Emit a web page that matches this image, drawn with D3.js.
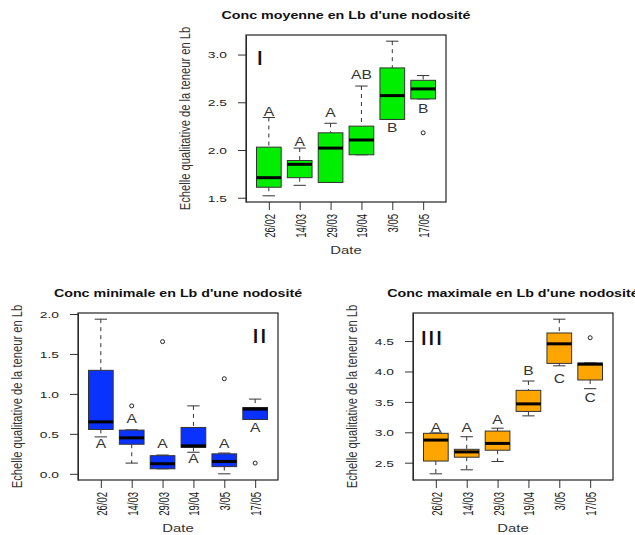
<!DOCTYPE html>
<html>
<head>
<meta charset="utf-8">
<script src="https://cdn.jsdelivr.net/npm/d3@7"></script>
<style>
  html, body { margin: 0; padding: 0; background: #fff; }
  svg { display: block; }
  text { font-family: "Liberation Sans", Arial, Helvetica, sans-serif; }
</style>
</head>
<body>
<svg id="chart" width="635" height="535"></svg>
<script>
// Sampling dates shared by all three panels
const dates = ["26/02", "14/03", "29/03", "19/04", "3/05", "17/05"];

// Box statistics per date: [lower whisker, Q1, median, Q3, upper whisker]
const moyenneStats = [
  [1.52, 1.61, 1.71, 2.03, 2.34],
  [1.63, 1.71, 1.85, 1.89, 2.02],
  [1.66, 1.66, 2.02, 2.18, 2.28],
  [1.95, 1.95, 2.105, 2.25, 2.67],
  [2.32, 2.32, 2.57, 2.86, 3.14],
  [2.535, 2.535, 2.64, 2.73, 2.78]
];
const moyenneOutliers = [[], [], [], [], [], [2.18]];
const moyenneLetters = ["A", "A", "A", "AB", "B", "B"];
const moyenneLetterAt = [2.40, 2.09, 2.39, 2.79, 2.24, 2.44];
const moyenneTicks = [1.5, 2.0, 2.5, 3.0];

const minimaleStats = [
  [0.462, 0.555, 0.65, 1.295, 1.935],
  [0.134, 0.37, 0.45, 0.547, 0.55],
  [0.063, 0.063, 0.126, 0.227, 0.235],
  [0.27, 0.33, 0.35, 0.58, 0.85],
  [0.0, 0.09, 0.155, 0.25, 0.26],
  [0.68, 0.68, 0.81, 0.83, 0.935]
];
const minimaleOutliers = [[], [0.85], [1.654], [], [1.19], [0.134]];
const minimaleLetters = ["A", "A", "A", "A", "A", "A"];
const minimaleLetterAt = [0.38, 0.69, 0.38, 0.19, 0.38, 0.575];
const minimaleTicks = [0.0, 0.5, 1.0, 1.5, 2.0];

const maximaleStats = [
  [2.317, 2.527, 2.872, 2.983, 2.99],
  [2.383, 2.59, 2.677, 2.72, 2.927],
  [2.52, 2.705, 2.817, 3.02, 3.067],
  [3.27, 3.343, 3.467, 3.69, 3.843],
  [4.093, 4.133, 4.455, 4.633, 4.86],
  [3.717, 3.86, 4.12, 4.138, 4.14]
];
const maximaleOutliers = [[], [], [], [], [], [4.555]];
const maximaleLetters = ["A", "A", "A", "B", "C", "C"];
const maximaleLetterAt = [3.08, 3.08, 3.205, 4.01, 3.89, 3.577];
const maximaleTicks = [2.5, 3.0, 3.5, 4.0, 4.5];

const yLabel = "Echelle qualitative de la teneur en Lb";
const xLabel = "Date";

const panels = [
  { title: "Conc moyenne en Lb d'une nodosité", roman: "I", romanSide: "left",
    stats: moyenneStats, outliers: moyenneOutliers, letters: moyenneLetters,
    letterAt: moyenneLetterAt, ticks: moyenneTicks, fill: "#00ee00",
    left: 246, top: 35 },
  { title: "Conc minimale en Lb d'une nodosité", roman: "II", romanSide: "right",
    stats: minimaleStats, outliers: minimaleOutliers, letters: minimaleLetters,
    letterAt: minimaleLetterAt, ticks: minimaleTicks, fill: "#0a32ff",
    left: 78, top: 313 },
  { title: "Conc maximale en Lb d'une nodosité", roman: "III", romanSide: "left",
    stats: maximaleStats, outliers: maximaleOutliers, letters: maximaleLetters,
    letterAt: maximaleLetterAt, ticks: maximaleTicks, fill: "#ffa500",
    left: 413, top: 313 }
];

const W = 200, H = 167;
const SX = 1.35; // horizontal glyph stretch used for all text
const svg = d3.select("#chart");

// Text drawn with a horizontal stretch applied around its anchor point
function stext(g, x, y, str, o = {}) {
  const sx = o.sx || SX;
  const rot = o.rotate ? ` rotate(${o.rotate})` : "";
  return g.append("text")
    .attr("transform", `translate(${x},${y}) scale(${sx},1)${rot}`)
    .attr("text-anchor", o.anchor || "middle")
    .attr("dy", o.dy || null)
    .attr("font-size", o.size || 11)
    .attr("font-weight", o.weight || "normal")
    .attr("fill", o.fill || "#222")
    .text(str);
}

panels.forEach(p => {
  const g = svg.append("g").attr("transform", `translate(${p.left},${p.top})`);

  const allVals = p.stats.flat().concat(p.outliers.flat());
  const lo = d3.min(allVals), hi = d3.max(allVals);
  const pad = (hi - lo) * 0.04;
  const y = d3.scaleLinear().domain([lo - pad, hi + pad]).range([H, 0]);
  const x = d3.scalePoint().domain(dates).range([0, W]).padding(0.74);
  const bw = x.step() * 0.8;

  // Y axis
  const ya = g.append("g")
    .call(d3.axisLeft(y).tickValues(p.ticks).tickFormat(d3.format(".1f")).tickSize(8).tickSizeOuter(0));
  ya.select(".domain").attr("stroke", "#333");
  ya.selectAll(".tick line").attr("stroke", "#333");
  ya.selectAll(".tick text")
    .attr("x", 0).attr("dy", "0.35em")
    .attr("transform", `translate(-19,0) scale(1.45,1)`)
    .attr("font-size", 9.5).attr("fill", "#222")
    .attr("font-family", "Liberation Sans, Arial, sans-serif");

  // X axis with vertical tick labels
  const xa = g.append("g").attr("transform", `translate(0,${H})`)
    .call(d3.axisBottom(x).tickSize(8).tickSizeOuter(0));
  xa.select(".domain").remove();
  xa.selectAll(".tick line").attr("stroke", "#333");
  xa.selectAll(".tick text")
    .attr("x", 0).attr("y", 0).attr("dy", "0.36em")
    .attr("transform", `translate(0,12) scale(1.6,1) rotate(-90)`)
    .attr("text-anchor", "end")
    .attr("font-size", 9.5).attr("fill", "#1a1a1a")
    .attr("font-family", "Liberation Sans, Arial, sans-serif");

  // Boxes
  const box = g.selectAll(".box").data(p.stats).join("g").attr("class", "box")
    .attr("transform", (d, i) => `translate(${x(dates[i])},0)`);

  // dashed whiskers
  box.append("line").attr("x1", 0).attr("x2", 0)
    .attr("y1", d => y(d[4])).attr("y2", d => y(d[3]))
    .attr("stroke", "#333").attr("stroke-dasharray", "4,4");
  box.append("line").attr("x1", 0).attr("x2", 0)
    .attr("y1", d => y(d[1])).attr("y2", d => y(d[0]))
    .attr("stroke", "#333").attr("stroke-dasharray", "4,4");
  // whisker caps
  box.selectAll(".cap").data(d => [d[0], d[4]]).join("line").attr("class", "cap")
    .attr("x1", -bw / 4).attr("x2", bw / 4)
    .attr("y1", v => y(v)).attr("y2", v => y(v))
    .attr("stroke", "#333");
  // box body
  box.append("rect")
    .attr("x", -bw / 2).attr("width", bw)
    .attr("y", d => y(d[3])).attr("height", d => y(d[1]) - y(d[3]))
    .attr("fill", p.fill).attr("stroke", "#333").attr("stroke-width", 1);
  // median
  box.append("line")
    .attr("x1", -bw / 2).attr("x2", bw / 2)
    .attr("y1", d => y(d[2])).attr("y2", d => y(d[2]))
    .attr("stroke", "#000").attr("stroke-width", 3);

  // outliers
  p.outliers.forEach((arr, i) => {
    g.selectAll(null).data(arr).join("circle")
      .attr("cx", x(dates[i])).attr("cy", v => y(v)).attr("r", 2)
      .attr("fill", "none").attr("stroke", "#222").attr("stroke-width", 1);
  });

  // significance letters
  p.letters.forEach((L, i) => {
    stext(g, x(dates[i]), y(p.letterAt[i]), L,
      { size: 12.5, sx: 1.25, dy: "0.36em", fill: "#333" });
  });

  // plot frame
  g.append("rect").attr("width", W).attr("height", H)
    .attr("fill", "none").attr("stroke", "#222").attr("stroke-width", 1.2);

  // panel numeral
  if (p.romanSide === "left") {
    stext(g, p.roman === "I" ? 10 : 7, p.roman === "I" ? 30 : 32, p.roman,
      { size: 21, sx: 1.3, anchor: "start", fill: "#111" });
  } else {
    stext(g, W - 11, 30, p.roman, { size: 21, sx: 1.3, anchor: "end", fill: "#111" });
  }

  // titles and axis labels
  stext(g, W / 2, -16, p.title, { size: 10.5, sx: 1.36, weight: "bold", fill: "#111" });
  stext(g, W / 2, H + 52, xLabel, { size: 11, sx: 1.35, fill: "#333" });
  stext(g, -61, H / 2, yLabel, { size: 11.2, sx: 1.25, rotate: -90, dy: "0.35em", fill: "#333" });
});
</script>
</body>
</html>
